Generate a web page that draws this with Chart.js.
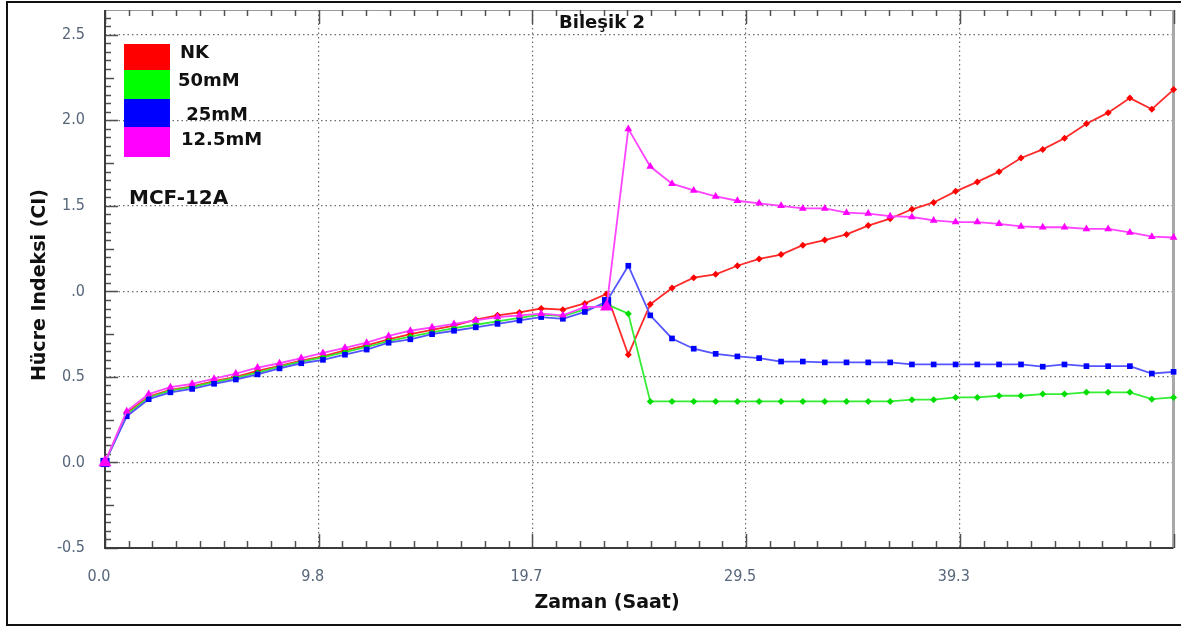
<!DOCTYPE html>
<html><head><meta charset="utf-8">
<script src="https://cdn.jsdelivr.net/npm/chart.js@4.4.1/dist/chart.umd.min.js"></script>
<style>
html,body{margin:0;padding:0;background:#fff;}
#wrap{position:relative;width:1181px;height:628px;overflow:hidden;font-family:'DejaVu Sans',sans-serif;}
#c{position:absolute;left:0;top:0;}
.frame{position:absolute;left:6px;top:1px;width:1180px;height:625px;border-left:2px solid #111;border-top:2px solid #111;border-bottom:2px solid #111;box-sizing:border-box;pointer-events:none;}
.t{position:absolute;font-weight:bold;color:#111;white-space:pre;line-height:1;}
.c{transform:translate(-50%,-50%);}
.l{transform:translate(0,-50%);}
.box{position:absolute;left:124px;width:46px;}
</style>
</head><body>
<div id="wrap">
<canvas id="c" width="1181" height="628"></canvas>
<div class="frame"></div>
<div class="t c" style="left:602px;top:22px;font-size:18px;">Bileşik 2</div>
<div class="t c" style="left:607px;top:601px;font-size:19px;">Zaman (Saat)</div>
<div class="t c" style="left:38px;top:285px;font-size:19px;transform:translate(-50%,-50%) rotate(-90deg);">Hücre Indeksi (CI)</div>
<div class="box" style="top:44px;height:26px;background:#ff0000;"></div>
<div class="box" style="top:70px;height:29px;background:#00ff00;"></div>
<div class="box" style="top:99px;height:28px;background:#0000ff;"></div>
<div class="box" style="top:127px;height:30px;background:#ff00ff;"></div>
<div class="t l" style="left:180px;top:52px;font-size:18px;">NK</div>
<div class="t l" style="left:178px;top:80px;font-size:18px;">50mM</div>
<div class="t l" style="left:180px;top:114px;font-size:18px;"> 25mM</div>
<div class="t l" style="left:181px;top:139px;font-size:18px;">12.5mM</div>
<div class="t l" style="left:129px;top:197px;font-size:20px;">MCF-12A</div>
</div>
<script>
const times = [0,1.00,2.01,3.01,4.01,5.02,6.02,7.02,8.03,9.03,10.03,11.04,12.04,13.05,14.05,15.05,16.06,17.06,18.06,19.07,20.07,21.07,22.08,23.08,24.08,25.09,26.09,27.09,28.10,29.10,30.10,31.11,32.11,33.12,34.12,35.12,36.13,37.13,38.13,39.14,40.14,41.14,42.15,43.15,44.15,45.16,46.16,47.16,48.17,49.17];
const nk = [0,0.29,0.385,0.425,0.445,0.475,0.50,0.535,0.565,0.595,0.62,0.655,0.685,0.72,0.75,0.775,0.80,0.835,0.86,0.877,0.90,0.893,0.93,0.985,0.63,0.925,1.02,1.08,1.10,1.15,1.19,1.215,1.27,1.30,1.333,1.385,1.425,1.48,1.52,1.585,1.64,1.70,1.78,1.83,1.895,1.98,2.045,2.13,2.065,2.18];
const mm50 = [0,0.28,0.38,0.42,0.44,0.47,0.495,0.525,0.56,0.59,0.615,0.645,0.675,0.71,0.735,0.76,0.785,0.805,0.825,0.845,0.865,0.855,0.895,0.925,0.87,0.357,0.357,0.357,0.357,0.357,0.357,0.357,0.357,0.357,0.357,0.357,0.357,0.367,0.367,0.38,0.38,0.39,0.39,0.40,0.40,0.41,0.41,0.41,0.37,0.38];
const mm25 = [0,0.27,0.37,0.41,0.43,0.46,0.485,0.515,0.55,0.58,0.60,0.63,0.66,0.70,0.72,0.75,0.77,0.79,0.81,0.83,0.85,0.84,0.88,0.94,1.15,0.86,0.725,0.665,0.635,0.62,0.61,0.59,0.59,0.585,0.585,0.585,0.585,0.573,0.573,0.573,0.573,0.573,0.573,0.56,0.573,0.563,0.563,0.563,0.52,0.53];
const mm125 = [0,0.30,0.40,0.44,0.46,0.49,0.52,0.555,0.58,0.61,0.64,0.67,0.70,0.74,0.77,0.79,0.81,0.83,0.85,0.86,0.87,0.86,0.91,0.91,1.95,1.73,1.63,1.59,1.555,1.53,1.515,1.50,1.485,1.485,1.46,1.455,1.44,1.435,1.415,1.405,1.405,1.395,1.38,1.375,1.375,1.365,1.365,1.345,1.32,1.315];
const xTickValues = [0, 9.8333, 19.6667, 29.5, 39.3333];
const xTickLabels = ["0.0","9.8","19.7","29.5","39.3"];
const yTickValues = [-0.5, 0, 0.5, 1, 1.5, 2, 2.5];
const yTickLabels = ["-0.5","0.0","0.5",".0","1.5","2.0","2.5"];
const X_MAX = 49.1667, Y_MIN = -0.5, Y_MAX = 2.645;

const pts = arr => times.map((t,i)=>({x:t,y:arr[i]}));
const bigAt = (small, big) => ctx => (ctx.dataIndex===0 || ctx.dataIndex===23) ? big : small;
const noPad = s => { s.paddingTop = 0; s.paddingBottom = 0; s.paddingLeft = 0; s.paddingRight = 0; };

const framePlugin = {
  id:'frame',
  beforeDatasetsDraw(chart){
    const {ctx, chartArea:a, scales:{x,y}} = chart;
    ctx.save();
    ctx.setLineDash([]);
    ctx.strokeStyle='#9a9a9a'; ctx.lineWidth=1;
    ctx.beginPath(); ctx.moveTo(a.left,a.top+0.5); ctx.lineTo(a.right,a.top+0.5); ctx.stroke();
    ctx.strokeStyle='#a8a8a8'; ctx.lineWidth=3;
    ctx.beginPath(); ctx.moveTo(a.right,a.top); ctx.lineTo(a.right,a.bottom); ctx.stroke();
    ctx.strokeStyle='#505050'; ctx.lineWidth=1.5;
    const n = 45, step = X_MAX/n;
    ctx.beginPath();
    for(let i=0;i<=n;i++){
      const px = Math.round(x.getPixelForValue(i*step))+0.5;
      const major = i%9===0;
      const L = major?14:7, T = major?14:6;
      ctx.moveTo(px,a.bottom); ctx.lineTo(px,a.bottom-L);
      ctx.moveTo(px,a.top); ctx.lineTo(px,a.top+T);
    }
    for(let i=0;i<=63;i++){
      const v = Y_MIN + i*0.05;
      if(v>Y_MAX) break;
      const py = Math.round(y.getPixelForValue(v))+0.5;
      const L = i%10===0?13:(i%5===0?9:6);
      ctx.moveTo(a.left,py); ctx.lineTo(a.left+L,py);
    }
    ctx.stroke();
    ctx.strokeStyle='#3c3c3c'; ctx.lineWidth=2;
    ctx.beginPath(); ctx.moveTo(a.left,a.top); ctx.lineTo(a.left,a.bottom); ctx.lineTo(a.right,a.bottom); ctx.stroke();
    ctx.restore();
  }
};

const tickFont = {family:"'DejaVu Sans Condensed','Liberation Sans Narrow',sans-serif", size:16};
const tickColor = '#56657a';
const gridColor = '#6e6e6e';

new Chart(document.getElementById('c'), {
  type:'line',
  data:{datasets:[
    {label:'12.5mM', data:pts(mm125), borderColor:'#ff44ff', backgroundColor:'#ff00ff', borderWidth:1.8, pointStyle:'triangle', pointRadius:bigAt(4.5,7.5), pointBorderWidth:0, order:0, clip:false},
    {label:'25mM', data:pts(mm25), borderColor:'#5555ff', backgroundColor:'#0000ff', borderWidth:1.8, pointStyle:'rect', pointRadius:bigAt(4,6.5), pointBorderWidth:0, order:1, clip:false},
    {label:'50mM', data:pts(mm50), borderColor:'#33ee33', backgroundColor:'#00dd00', borderWidth:1.8, pointStyle:'rectRot', pointRadius:3.5, pointBorderWidth:0, order:2, clip:false},
    {label:'NK', data:pts(nk), borderColor:'#ff2a2a', backgroundColor:'#ff0000', borderWidth:1.8, pointStyle:'rectRot', pointRadius:3.5, pointBorderWidth:0, order:3, clip:false}
  ]},
  options:{
    responsive:false, animation:false, devicePixelRatio:1,
    layout:{padding:{left:0, top:10, right:5, bottom:0}},
    plugins:{legend:{display:false}, tooltip:{enabled:false}, title:{display:false}},
    elements:{line:{tension:0}},
    scales:{
      x:{type:'linear', min:0, max:X_MAX,
        afterFit(s){ s.height = 80; noPad(s); },
        afterBuildTicks(s){ s.ticks = xTickValues.map(v=>({value:v})); },
        ticks:{callback:(v,i)=>xTickLabels[i], font:tickFont, color:tickColor, padding:19, labelOffset:-6, maxRotation:0, autoSkip:false},
        grid:{color:c=> (c.tick && c.tick.value===0) ? 'rgba(0,0,0,0)' : gridColor, lineWidth:1.2, drawTicks:false},
        border:{display:false, dash:[1.5,3]}
      },
      y:{type:'linear', min:Y_MIN, max:Y_MAX,
        afterFit(s){ s.width = 105; noPad(s); },
        afterBuildTicks(s){ s.ticks = yTickValues.map(v=>({value:v})); },
        ticks:{callback:(v,i)=>yTickLabels[i], font:tickFont, color:tickColor, padding:20, autoSkip:false},
        grid:{color:c=> (c.tick && c.tick.value===-0.5) ? 'rgba(0,0,0,0)' : gridColor, lineWidth:1.2, drawTicks:false},
        border:{display:false, dash:[1.5,3]}
      }
    }
  },
  plugins:[framePlugin]
});
</script>
</body></html>
